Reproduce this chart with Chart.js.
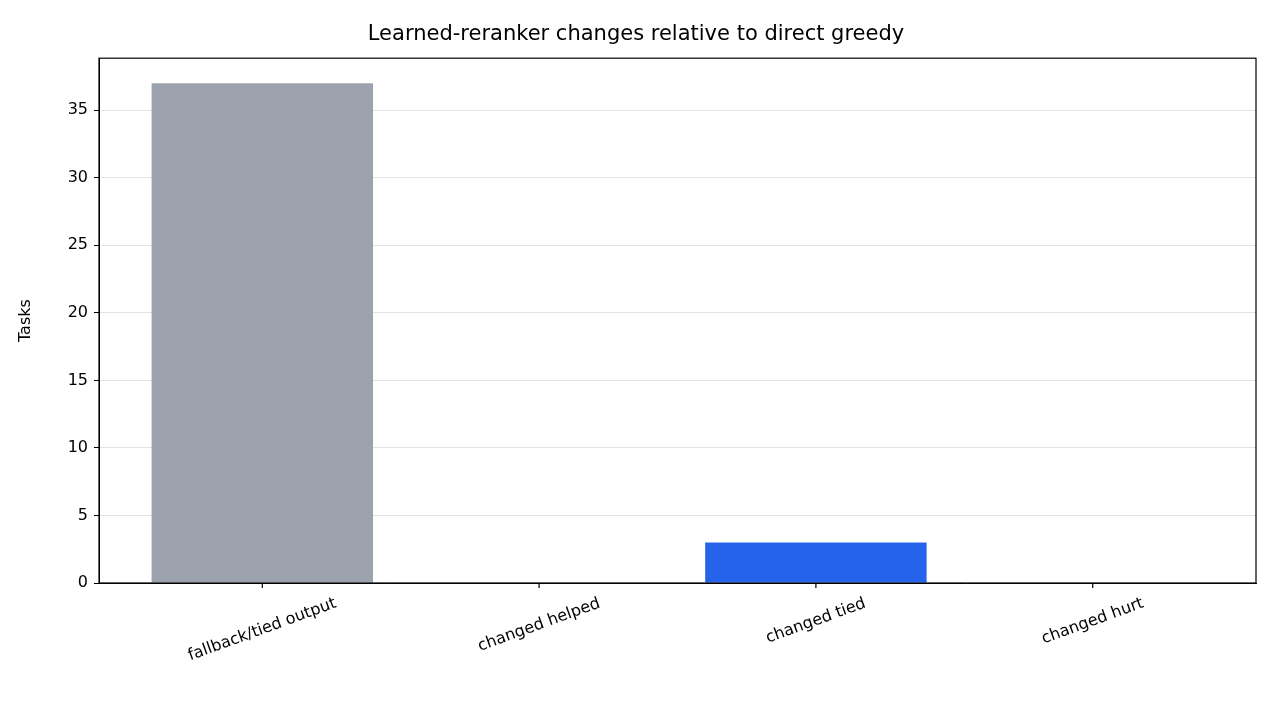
<!DOCTYPE html>
<html><head><meta charset="utf-8">
<script src="https://cdn.jsdelivr.net/npm/chart.js@4"></script>
<style>html,body{margin:0;padding:0;background:#fff}#c{display:block}</style>
</head><body>
<canvas id="c" width="1280" height="720"></canvas>
<script>
const categories = ["fallback/tied output","changed helped","changed tied","changed hurt"];
const values = [37, 0, 3, 0];
const colors = ["#9ca3af","#9ca3af","#2563eb","#2563eb"];
const yTicks = [0,5,10,15,20,25,30,35];
const FONT = "'DejaVu Sans', sans-serif";

const frame = {id:'frame', afterDraw(ch){
  const a=ch.chartArea,c=ch.ctx;c.save();c.strokeStyle='#000';c.lineWidth=1.2;
  c.strokeRect(a.left,a.top,a.right-a.left,a.bottom-a.top);
  const xs=ch.scales.x;
  c.fillStyle='#000';c.font="16px "+FONT;c.textAlign='center';c.textBaseline='middle';
  categories.forEach((t,i)=>{const px=xs.getPixelForValue(i);
    c.beginPath();c.moveTo(px,a.bottom);c.lineTo(px,a.bottom+5);c.stroke();
    const w=c.measureText(t).width;const ang=-20*Math.PI/180;
    const cy=a.bottom+10+ (w/2)*Math.sin(-ang)+10;
    c.save();c.translate(px,cy);c.rotate(ang);c.fillText(t,0,0);c.restore();});
  c.restore();}};
Chart.defaults.font.family = FONT;
Chart.defaults.color = '#000';
new Chart(document.getElementById('c'), {
  type:'bar',
  data:{datasets:[{data:values.map((v,i)=>({x:i,y:v})),backgroundColor:colors,barPercentage:1,categoryPercentage:0.8}]},
  options:{
    responsive:false, animation:false, devicePixelRatio:1,
    layout:{padding:{left:16,right:24,top:0,bottom:0}},
    plugins:{legend:{display:false},tooltip:{enabled:false},
      title:{display:true,text:'Learned-reranker changes relative to direct greedy',font:{size:21,weight:'normal'},padding:{top:22,bottom:11}}},
    scales:{
      x:{type:'linear',min:-0.59,max:3.59,offset:false,
        afterBuildTicks(s){s.ticks=[0,1,2,3].map(v=>({value:v}));},
        ticks:{display:false},
        grid:{display:false,drawTicks:false},border:{color:'#000'},
        afterFit(s){s.height=137;}},
      y:{min:0,max:38.85,
        afterBuildTicks(s){s.ticks=yTicks.map(v=>({value:v}));},
        ticks:{font:{size:16},padding:6},
        grid:{color:'#e3e3e3',tickLength:5,tickColor:'#000'},border:{color:'#000'},
        title:{display:true,text:'Tasks',font:{size:16},padding:{top:0,bottom:10}},
        afterFit(s){s.width=83;}}
    }
  },
  plugins:[frame]
});
</script></body></html>
